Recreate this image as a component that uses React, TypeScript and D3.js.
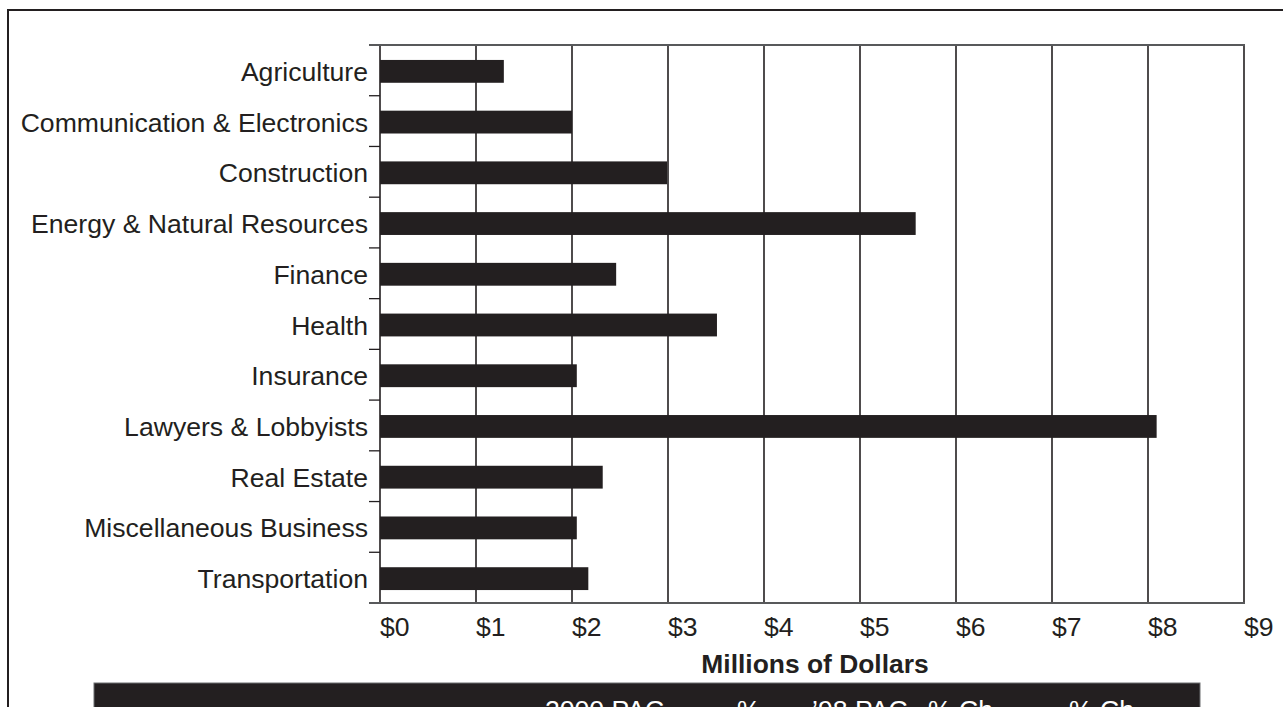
import React, { useEffect, useRef } from "react";
import * as d3 from "d3";

// PAC contributions by industry (millions of dollars)
const categories: string[] = [
  "Agriculture",
  "Communication & Electronics",
  "Construction",
  "Energy & Natural Resources",
  "Finance",
  "Health",
  "Insurance",
  "Lawyers & Lobbyists",
  "Real Estate",
  "Miscellaneous Business",
  "Transportation",
];

const values: number[] = [1.29, 2.0, 2.99, 5.58, 2.46, 3.51, 2.05, 8.09, 2.32, 2.05, 2.17];

const xTicks: number[] = [0, 1, 2, 3, 4, 5, 6, 7, 8, 9];

const tableHeaders: { label: string; x: number }[] = [
  { label: "2000 PAC", x: 545 },
  { label: "%", x: 737 },
  { label: "\u201998 PAC", x: 812 },
  { label: "% Ch", x: 928 },
  { label: "% Ch", x: 1069 },
];

const WIDTH = 1283;
const HEIGHT = 707;
const INK = "#231f20";
const FONT = "'Liberation Sans', Arial, Helvetica, sans-serif";

const App: React.FC = () => {
  const svgRef = useRef<SVGSVGElement | null>(null);

  useEffect(() => {
    if (!svgRef.current) return;
    const svg = d3.select(svgRef.current);
    svg.selectAll("*").remove();

    const left = 380;
    const right = 1244;
    const top = 45;
    const bottom = 603;

    const x = d3.scaleLinear().domain([0, 9]).range([left, right]);
    const y = d3
      .scaleBand<string>()
      .domain(categories)
      .range([top, bottom])
      .paddingInner(0.55)
      .paddingOuter(0.275);

    // outer frame
    svg
      .append("rect")
      .attr("x", 8)
      .attr("y", 10)
      .attr("width", WIDTH + 20)
      .attr("height", HEIGHT + 20)
      .attr("fill", "none")
      .attr("stroke", INK)
      .attr("stroke-width", 2);

    // vertical gridlines
    svg
      .append("g")
      .selectAll("line")
      .data(xTicks)
      .join("line")
      .attr("x1", (d) => x(d))
      .attr("x2", (d) => x(d))
      .attr("y1", top)
      .attr("y2", bottom)
      .attr("stroke", INK)
      .attr("stroke-width", 1.6);

    // top and bottom rules
    [top, bottom].forEach((yy) => {
      svg
        .append("line")
        .attr("x1", left - 11)
        .attr("x2", right + 1)
        .attr("y1", yy)
        .attr("y2", yy)
        .attr("stroke", "#58595b")
        .attr("stroke-width", 2);
    });

    // category ticks at band boundaries
    const bounds = d3.range(1, categories.length).map((i) => top + i * y.step());
    svg
      .append("g")
      .selectAll("line")
      .data(bounds)
      .join("line")
      .attr("x1", left - 11)
      .attr("x2", left)
      .attr("y1", (d) => d)
      .attr("y2", (d) => d)
      .attr("stroke", INK)
      .attr("stroke-width", 1.3);

    // bars
    svg
      .append("g")
      .selectAll("rect")
      .data(categories)
      .join("rect")
      .attr("x", x(0))
      .attr("y", (d) => (y(d) ?? 0) + 1)
      .attr("width", (d, i) => x(values[i]) - x(0))
      .attr("height", y.bandwidth())
      .attr("fill", INK);

    // category labels
    svg
      .append("g")
      .selectAll("text")
      .data(categories)
      .join("text")
      .attr("x", left - 12)
      .attr("y", (d) => (y(d) ?? 0) + y.bandwidth() / 2 + 1)
      .attr("dy", "0.36em")
      .attr("text-anchor", "end")
      .attr("font-family", FONT)
      .attr("font-size", 26.6)
      .attr("fill", INK)
      .text((d) => d);

    // x tick labels
    svg
      .append("g")
      .selectAll("text")
      .data(xTicks)
      .join("text")
      .attr("x", (d) => x(d))
      .attr("y", 636)
      .attr("font-family", FONT)
      .attr("font-size", 26.6)
      .attr("fill", INK)
      .text((d) => `$${d}`);

    // axis title
    svg
      .append("text")
      .attr("x", (left + right) / 2 + 3)
      .attr("y", 673)
      .attr("text-anchor", "middle")
      .attr("font-family", FONT)
      .attr("font-size", 26.4)
      .attr("font-weight", "bold")
      .attr("fill", INK)
      .text("Millions of Dollars");

    // table header band (cut off at bottom)
    svg
      .append("rect")
      .attr("x", 94)
      .attr("y", 683)
      .attr("width", 1106)
      .attr("height", 40)
      .attr("fill", INK)
      .attr("stroke", "#6d6e71")
      .attr("stroke-width", 1);

    svg
      .append("g")
      .selectAll("text")
      .data(tableHeaders)
      .join("text")
      .attr("x", (d) => d.x)
      .attr("y", 719)
      .attr("font-family", FONT)
      .attr("font-size", 26.6)
      .attr("fill", "#ffffff")
      .text((d) => d.label);
  }, []);

  return (
    <div style={{ position: "absolute", left: 0, top: 0, width: WIDTH, height: HEIGHT, overflow: "hidden", background: "#fff" }}>
      <svg ref={svgRef} width={WIDTH} height={HEIGHT}></svg>
    </div>
  );
};

export default App;
